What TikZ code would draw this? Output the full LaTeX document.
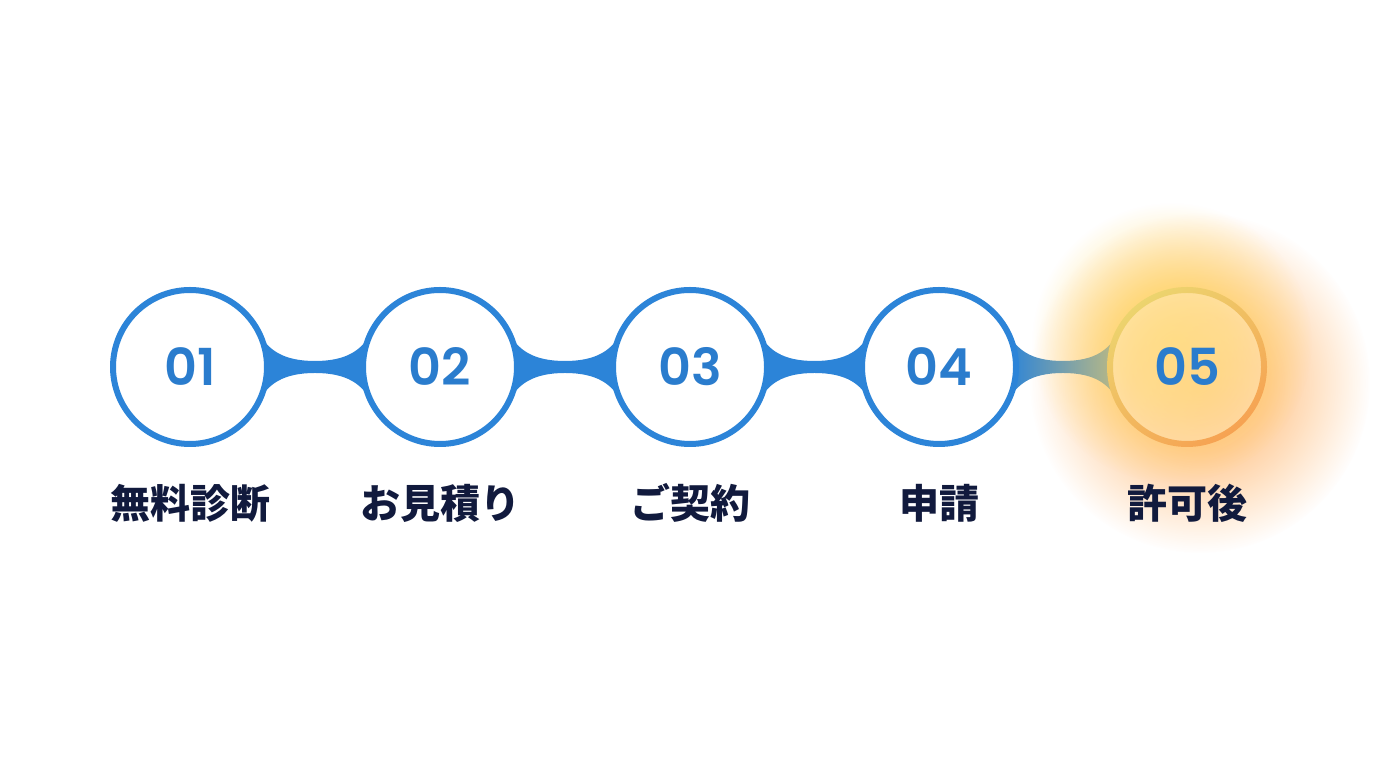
\documentclass[tikz,border=0pt]{standalone}
\usepackage{fontspec}
\usepackage{xcolor}
\usetikzlibrary{calc,fadings}
\newfontfamily\jpfont{Noto Sans CJK JP}
\newfontfamily\numfont{Poppins}[UprightFont=* SemiBold]

\definecolor{stepblue}{RGB}{44,132,216}
\definecolor{numblue}{RGB}{42,124,205}
\definecolor{labelnavy}{RGB}{17,26,61}
\definecolor{neckkhaki}{RGB}{190,186,130}
\definecolor{ringyellow}{RGB}{236,212,110}
\definecolor{ringorange}{RGB}{246,162,82}
\definecolor{glowyellow}{RGB}{255,214,80}
\definecolor{gloworange}{RGB}{255,168,80}

% soft glow mask
\pgfdeclareradialshading{glowmask}{\pgfpointorigin}{color(0bp)=(white); color(10bp)=(white!75!black); color(25bp)=(black); color(50bp)=(black)}
\pgfdeclarefading{glowfade}{\pgfuseshading{glowmask}}

% neck between two neighbouring steps
\newcommand{\neck}[3]{%
  \path[#3] ($(#1)+(27:77)$) .. controls +(-63:20) and ($(#1)!0.5!(#2)+(-32,6)$) .. ($(#1)!0.5!(#2)+(0,6)$)
    .. controls ($(#1)!0.5!(#2)+(32,6)$) and ($(#2)+(153:77)+(-117:20)$) .. ($(#2)+(153:77)$)
    arc[start angle=153,end angle=207,radius=77]
    .. controls +(117:20) and ($(#1)!0.5!(#2)+(32,-6)$) .. ($(#1)!0.5!(#2)+(0,-6)$)
    .. controls ($(#1)!0.5!(#2)+(-32,-6)$) and ($(#1)+(-27:77)+(63:20)$) .. ($(#1)+(-27:77)$)
    arc[start angle=-27,end angle=27,radius=77] -- cycle;}

\begin{document}
\begin{tikzpicture}[x=1pt,y=1pt]
    \tikzstyle{stepnode}=[circle,draw=stepblue,line width=6pt,fill=white,minimum size=154pt,inner sep=0pt,outer sep=0pt,text=numblue,font=\numfont\fontsize{51}{51}\selectfont]
    \tikzstyle{lastnode}=[circle,line width=6pt,minimum size=154pt,inner sep=0pt,outer sep=0pt,text=numblue,font=\numfont\fontsize{51}{51}\selectfont]
    \tikzstyle{steplabel}=[text=labelnavy,font=\jpfont\bfseries\fontsize{40}{40}\selectfont]

   \useasboundingbox (0,0) rectangle (1376,768);
   \fill[white] (0,0) rectangle (1376,768);

   \coordinate (s1) at (190,401);
   \coordinate (s2) at (440,401);
   \coordinate (s3) at (690,401);
   \coordinate (s4) at (939,401);
   \coordinate (s5) at (1187,401);

   % glow behind the last step
   \fill[gloworange, path fading=glowfade, opacity=0.8] (1200,385) circle (170);
   \fill[glowyellow, path fading=glowfade, opacity=0.75] (1172,425) circle (140);

   \neck{s1}{s2}{fill=stepblue}
   \neck{s2}{s3}{fill=stepblue}
   \neck{s3}{s4}{fill=stepblue}
   \neck{s4}{s5}{left color=stepblue,right color=neckkhaki}

   \node [stepnode] (n1) at (s1) {01};
   \node [stepnode] (n2) at (s2) {02};
   \node [stepnode] (n3) at (s3) {03};
   \node [stepnode] (n4) at (s4) {04};

   \fill[white, opacity=0.25] (s5) circle (77);
   \path[even odd rule, top color=ringyellow, bottom color=ringorange, shading angle=35]
      (s5) circle (80) (s5) circle (74);
   \node [lastnode] (n5) at (s5) {05};

   \node [steplabel] (l1) at (190,265) {無料診断};
   \node [steplabel] (l2) at (440,265) {お見積り};
   \node [steplabel] (l3) at (690,265) {ご契約};
   \node [steplabel] (l4) at (939,265) {申請};
   \node [steplabel] (l5) at (1187,265) {許可後};
\end{tikzpicture}
\end{document}
